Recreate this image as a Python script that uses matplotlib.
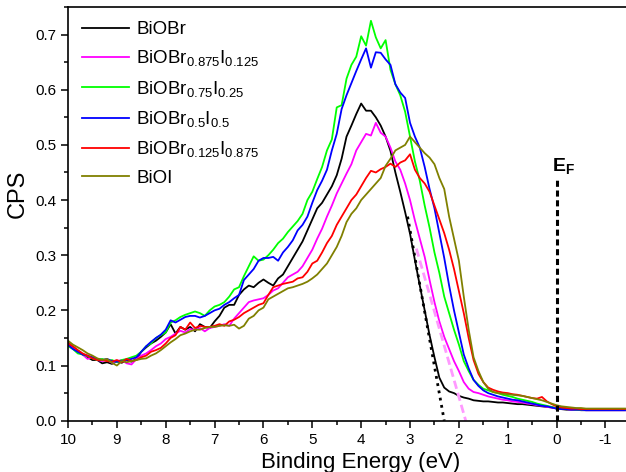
import numpy as np
import matplotlib
matplotlib.use("Agg")
import matplotlib.pyplot as plt
from matplotlib.ticker import MultipleLocator

plt.rcParams['font.family'] = ['Liberation Sans', 'DejaVu Sans']
plt.rcParams['mathtext.fontset'] = 'custom'
plt.rcParams['mathtext.rm'] = 'Liberation Sans'
plt.rcParams['mathtext.it'] = 'Liberation Sans:italic'
plt.rcParams['mathtext.bf'] = 'Liberation Sans:bold'
plt.rcParams['mathtext.default'] = 'regular'
plt.rcParams['axes.unicode_minus'] = False

# binding energy grid (eV), 10.0 down to -1.4
energy = np.round(np.arange(10.0, -1.45, -0.1), 1)

bioBr = [.142, .133, .127, .120, .115, .110, .110, .104, .106, .103,
         .108, .105, .110, .107, .112, .125, .133, .140, .145, .152,
         .160, .175, .158, .170, .165, .170, .162, .175, .170, .168,
         .180, .190, .205, .210, .210, .228, .238, .245, .242, .250,
         .256, .250, .245, .258, .265, .280, .295, .310, .325, .345,
         .365, .385, .395, .410, .425, .445, .475, .515, .535, .556,
         .575, .562, .562, .550, .535, .515, .489, .450, .415, .378,
         .339, .291, .245, .200, .155, .115, .078, .060, .053, .050,
         .045, .042, .040, .037, .036, .035, .035, .034, .033, .033,
         .032, .031, .030, .030, .029, .028, .027, .026, .025, .024,
         .022, .021, .020, .020, .020, .019, .019, .019, .019, .019,
         .019, .019, .019, .019, .019]

br0875 = [.140, .132, .125, .120, .112, .115, .110, .108, .110, .105,
          .108, .110, .104, .102, .112, .118, .122, .128, .135, .140,
          .148, .152, .158, .163, .160, .166, .165, .168, .162, .168,
          .170, .172, .175, .172, .185, .195, .205, .215, .218, .220,
          .222, .228, .236, .240, .250, .260, .265, .270, .280, .295,
          .310, .330, .348, .370, .390, .412, .430, .448, .465, .490,
          .505, .520, .517, .540, .522, .515, .495, .470, .455, .430,
          .400, .363, .330, .297, .255, .215, .180, .152, .130, .108,
          .090, .070, .058, .052, .050, .047, .044, .042, .040, .038,
          .037, .035, .034, .033, .031, .030, .028, .027, .025, .024,
          .022, .021, .021, .020, .020, .020, .019, .019, .019, .019,
          .019, .019, .019, .019, .019]

br075 = [.135, .130, .122, .120, .117, .113, .110, .112, .108, .110,
         .106, .110, .112, .115, .118, .125, .135, .140, .150, .155,
         .160, .178, .182, .188, .192, .195, .198, .195, .190, .200,
         .207, .210, .215, .225, .238, .242, .262, .280, .298, .290,
         .292, .300, .310, .322, .330, .342, .352, .362, .375, .400,
         .415, .438, .460, .490, .510, .568, .572, .620, .645, .660,
         .697, .680, .725, .695, .675, .690, .636, .610, .590, .560,
         .515, .470, .435, .390, .350, .305, .268, .225, .195, .165,
         .138, .108, .090, .074, .065, .058, .055, .052, .050, .047,
         .045, .043, .040, .038, .036, .034, .031, .029, .027, .025,
         .023, .022, .021, .021, .020, .020, .020, .020, .020, .020,
         .020, .020, .020, .020, .020]

br05 = [.138, .130, .125, .120, .118, .115, .112, .110, .112, .108,
        .107, .108, .110, .112, .115, .125, .135, .143, .150, .156,
        .165, .182, .178, .183, .188, .190, .190, .187, .190, .195,
        .200, .203, .210, .215, .222, .228, .255, .265, .275, .290,
        .295, .295, .297, .290, .305, .315, .327, .345, .355, .370,
        .395, .418, .435, .455, .490, .520, .565, .590, .612, .634,
        .655, .675, .640, .668, .667, .655, .645, .610, .595, .585,
        .540, .515, .495, .460, .420, .385, .340, .295, .245, .200,
        .160, .120, .095, .074, .063, .055, .050, .047, .044, .042,
        .040, .038, .037, .035, .033, .031, .029, .027, .026, .024,
        .022, .021, .021, .020, .020, .020, .019, .019, .019, .019,
        .019, .019, .019, .019, .019]

br0125 = [.140, .135, .128, .122, .118, .113, .110, .110, .108, .107,
          .110, .106, .112, .108, .110, .115, .118, .125, .128, .132,
          .140, .150, .155, .170, .165, .178, .168, .172, .170, .170,
          .172, .175, .172, .180, .183, .188, .195, .200, .205, .210,
          .213, .228, .242, .245, .248, .250, .252, .258, .260, .270,
          .285, .290, .305, .322, .335, .355, .370, .385, .400, .410,
          .425, .440, .453, .450, .456, .460, .466, .460, .468, .472,
          .483, .455, .440, .430, .415, .390, .365, .340, .310, .275,
          .235, .195, .150, .110, .085, .070, .060, .056, .053, .051,
          .050, .048, .047, .045, .043, .041, .040, .043, .035, .030,
          .026, .024, .023, .022, .022, .021, .021, .021, .021, .021,
          .021, .021, .021, .021, .021]

bioI = [.145, .138, .133, .128, .122, .118, .113, .110, .112, .105,
        .100, .108, .106, .108, .110, .112, .113, .118, .122, .128,
        .135, .142, .148, .155, .158, .162, .165, .165, .168, .170,
        .170, .172, .173, .172, .174, .167, .172, .185, .190, .200,
        .205, .220, .225, .230, .235, .240, .242, .245, .248, .252,
        .258, .265, .275, .285, .300, .315, .335, .360, .375, .385,
        .400, .410, .420, .430, .440, .462, .475, .490, .495, .500,
        .515, .505, .495, .485, .477, .465, .440, .420, .370, .330,
        .290, .225, .165, .115, .090, .070, .058, .052, .050, .049,
        .048, .047, .046, .045, .043, .041, .039, .037, .034, .031,
        .028, .026, .025, .024, .023, .023, .022, .022, .022, .022,
        .022, .022, .022, .022, .022]

labels = ['BiOBr', r'BiOBr$_{0.875}$I$_{0.125}$', r'BiOBr$_{0.75}$I$_{0.25}$',
          r'BiOBr$_{0.5}$I$_{0.5}$', r'BiOBr$_{0.125}$I$_{0.875}$', 'BiOI']
colors = ['black', '#ff00ff', '#00ff00', '#0000ff', '#ff0000', '#808000']
series = [bioBr, br0875, br075, br05, br0125, bioI]

# band-edge extrapolation lines
tangent_black_x = [3.05, 2.30]
tangent_black_y = [0.370, 0.0]
tangent_pink_x = [2.87, 1.86]
tangent_pink_y = [0.312, 0.0]
fermi_x = [0.0, 0.0]
fermi_y = [0.0, 0.44]

fig = plt.figure(figsize=(6.26, 4.72), dpi=100)
ax = fig.add_axes([68 / 626, 1 - 420.7 / 472, 1 - 68 / 626, (420.7 - 7) / 472])

for y, c, lab in zip(series, colors, labels):
    ax.plot(energy, y, color=c, lw=1.3, label=lab)

ax.plot(tangent_black_x, tangent_black_y, color='black', lw=2, ls=':')
ax.plot(tangent_pink_x, tangent_pink_y, color='#ff99ff', lw=2, dashes=(3, 1.5))
ax.plot(fermi_x, fermi_y, color='black', lw=2.2, dashes=(2.0, 1.2))
ax.text(0.1, 0.452, r'$\mathbf{E_F}$', fontsize=14, ha='left', va='baseline')

ax.set_xlim(10, -1.42)
ax.set_ylim(0, 0.75)
ax.xaxis.set_major_locator(MultipleLocator(1))
ax.xaxis.set_minor_locator(MultipleLocator(0.5))
ax.yaxis.set_major_locator(MultipleLocator(0.1))
ax.yaxis.set_minor_locator(MultipleLocator(0.05))
ax.set_xticks(np.arange(10, -1.5, -1))
ax.set_xticklabels(['10', '9', '8', '7', '6', '5', '4', '3', '2', '1', '0', '-1'])
ax.set_yticks(np.arange(0, 0.75, 0.1))
ax.set_yticklabels(['0.0', '0.1', '0.2', '0.3', '0.4', '0.5', '0.6', '0.7'])
ax.tick_params(which='major', direction='out', length=5, width=1.1, labelsize=11,
               top=False, right=False)
ax.tick_params(which='minor', direction='out', length=3, width=1.1, top=False, right=False)
for s in ['left', 'bottom', 'top']:
    ax.spines[s].set_linewidth(1.2)
ax.spines['right'].set_visible(False)

ax.set_xlabel('Binding Energy (eV)', fontsize=16)
ax.set_ylabel('CPS', fontsize=17)
ax.xaxis.set_label_coords(0.525, -0.075)
ax.yaxis.set_label_coords(-0.07, 0.548)

ax.legend(loc='upper left', bbox_to_anchor=(0.0, 1.0), frameon=False, fontsize=13.5,
          handlelength=2.5, handletextpad=0.4, labelspacing=0.55, borderaxespad=0.35)

fig.savefig('out.png', dpi=100)
